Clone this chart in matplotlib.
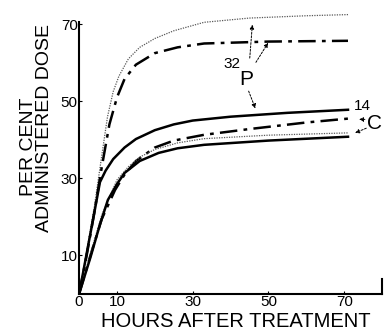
import matplotlib.pyplot as plt
import numpy as np

plt.rcParams['font.family'] = ['Liberation Sans', 'DejaVu Sans']

# P32 group (upper)
hrs_p_dot = [0, 2, 4, 6, 7.5, 9, 10.5, 13, 16, 20, 25, 33, 45, 60, 71]
p_dot = [0, 11, 22.5, 36, 46, 52.5, 56.5, 61, 64, 66.3, 68.3, 70.5, 71.6, 72.2, 72.5]
hrs_p_dd = [0, 2, 4, 6, 8, 10, 12, 15, 20, 26, 33, 50, 71]
p_dd = [0, 10, 21, 33, 44, 51, 55.8, 59.5, 62.5, 64, 65, 65.5, 65.7]

# C14 group (lower)
hrs_c_solid_hi = [0, 2, 4, 5.5, 7, 9, 12, 15, 20, 25, 30, 40, 55, 71]
c_solid_hi = [0, 10.5, 21, 29, 32, 35, 38, 40.2, 42.5, 44, 45, 46, 47, 47.8]
hrs_c_dd = [0, 3, 6, 9.5, 12, 15, 20, 25, 33, 45, 60, 71]
c_dd = [0, 10, 19.5, 27, 31, 34.5, 38, 39.8, 41.3, 42.8, 44.5, 45.5]
hrs_c_dot = [0, 3, 6, 10, 13, 16, 20, 26, 33, 50, 71]
c_dot = [0, 10.5, 20.5, 29.6, 33, 35.5, 37.5, 39.2, 40.3, 41.2, 41.8]
hrs_c_solid_lo = [0, 3, 5.5, 7.6, 10, 12, 16, 21, 26, 33, 50, 71]
c_solid_lo = [0, 9.5, 18, 24.4, 28.5, 31.4, 34.5, 36.6, 37.8, 38.7, 39.8, 40.8]

xticks = [0, 10, 30, 50, 70]
yticks = [10, 30, 50, 70]

fig = plt.figure(figsize=(3.84, 3.31), dpi=100)
ax = fig.add_axes([0.206, 0.112, 0.789, 0.873])

dd = (0, (7, 2.5, 1.5, 2.5))
ax.plot(hrs_p_dot, p_dot, color='0.35', lw=0.9, ls=(0, (1, 1)))
ax.plot(hrs_p_dd, p_dd, color='black', lw=1.8, ls=dd)
ax.plot(hrs_c_solid_hi, c_solid_hi, color='black', lw=1.8)
ax.plot(hrs_c_dd, c_dd, color='black', lw=1.8, ls=dd)
ax.plot(hrs_c_dot, c_dot, color='0.35', lw=0.9, ls=(0, (1, 1)))
ax.plot(hrs_c_solid_lo, c_solid_lo, color='black', lw=1.8)

ax.set_xlim(0, 80)
ax.set_ylim(0, 75)
ax.spines['top'].set_visible(False)
ax.spines['left'].set_bounds(0, 70.5)
ax.spines['right'].set_bounds(0, 4)
for s in ax.spines.values():
    s.set_linewidth(1.5)

ax.set_xticks(xticks)
ax.set_xticklabels([str(t) for t in xticks], fontsize=11)
ax.set_yticks(yticks)
ax.set_yticklabels([str(t) for t in yticks], fontsize=11)
ax.tick_params(axis='both', length=2, direction='in', pad=1)

# annotations
ap = dict(arrowstyle='-|>', ls=(0, (2, 1.5)), lw=0.7, color='black', mutation_scale=6)
ax.text(40.3, 59.7, '32', fontsize=11, ha='center', va='center')
ax.text(44.2, 55.6, 'P', fontsize=15, ha='center', va='center')
ax.annotate('', xy=(45.8, 70.6), xytext=(45, 60.5), arrowprops=ap)
ax.annotate('', xy=(50.3, 65.8), xytext=(46.3, 59.5), arrowprops=ap)
ax.annotate('', xy=(46.8, 47.5), xytext=(44.5, 53.3), arrowprops=ap)
ax.text(74.7, 48.8, '14', fontsize=11, ha='center', va='center', clip_on=False)
ax.text(78, 44.3, 'C', fontsize=15, ha='center', va='center', clip_on=False)
ax.annotate('', xy=(73.2, 45.3), xytext=(76.2, 45.3), arrowprops=ap)
ax.annotate('', xy=(72.2, 41.5), xytext=(76.5, 43.3), arrowprops=ap)

fig.text(0.615, 0.028, 'HOURS AFTER TREATMENT', fontsize=14.5, ha='center', va='center')
fig.text(0.073, 0.556, 'PER CENT', fontsize=14, ha='center', va='center', rotation=90)
fig.text(0.116, 0.613, 'ADMINISTERED DOSE', fontsize=14, ha='center', va='center', rotation=90)

fig.savefig('out.png', dpi=100)
